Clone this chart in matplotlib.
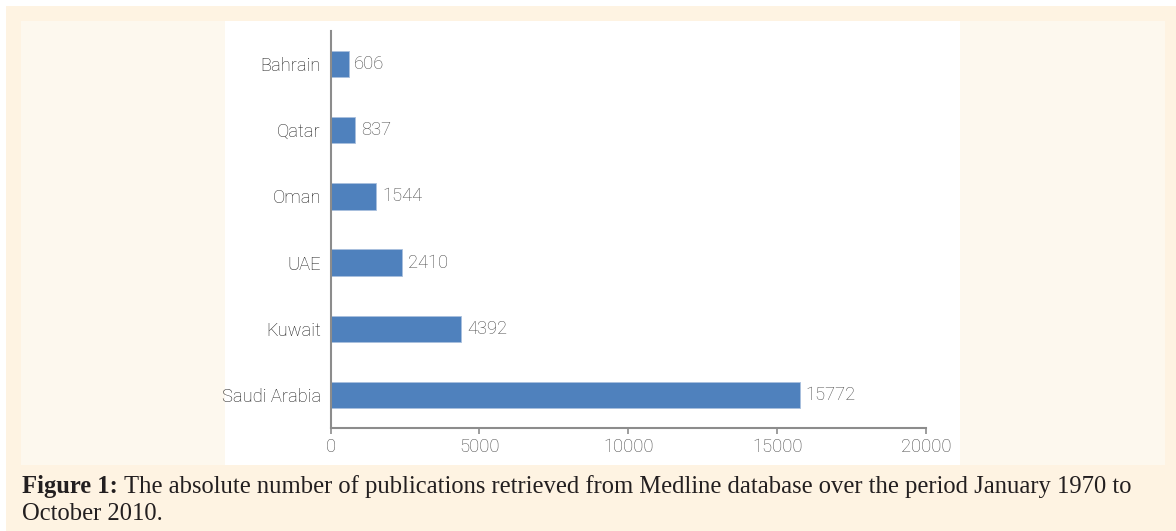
import matplotlib
matplotlib.use("Agg")
import matplotlib.pyplot as plt
from matplotlib.patches import Rectangle

# data, bottom to top
countries = ["Saudi Arabia", "Kuwait", "UAE", "Oman", "Qatar", "Bahrain"]
publications = [15772, 4392, 2410, 1544, 837, 606]
x_ticks = [0, 5000, 10000, 15000, 20000]

W, H = 1176, 531
BAR = "#4F81BD"
GREY = "#4A4A4A"
CAP = 17.75
SANS = dict(family="Roboto", weight="light", fontsize=13.2)
fig = plt.figure(figsize=(W / 100, H / 100), dpi=100)
fig.patch.set_facecolor("white")


def px_rect(x0, y0, x1, y1, color):
    # rectangle in pixel coords (origin top-left)
    fig.patches.append(Rectangle((x0 / W, 1 - y1 / H), (x1 - x0) / W, (y1 - y0) / H,
                                 transform=fig.transFigure, facecolor=color,
                                 edgecolor="none", zorder=0))


px_rect(6, 6, W, H, "#FEF3E2")
px_rect(21, 21, 1165, 465, "#FDF8EE")
px_rect(225, 21, 960, 465, "white")

ax = fig.add_axes([330.5 / W, 1 - 428 / H, (926 - 330.5) / W, 397 / H])
ax.set_facecolor("none")
ax.set_zorder(2)

ypos = list(range(len(countries)))
bars = ax.barh(ypos, publications, height=0.4, color=BAR,
               edgecolor="#A9C0DE", linewidth=0.6)
ax.bar_label(bars, labels=[str(v) for v in publications], padding=4,
             color=GREY, **SANS)

ax.set_xlim(0, 20000)
ax.set_ylim(-0.5, len(countries) - 0.5)
ax.set_xticks(x_ticks)
ax.set_xticklabels([str(t) for t in x_ticks])
ax.set_yticks(ypos)
ax.set_yticklabels(countries)

for s in ["top", "right"]:
    ax.spines[s].set_visible(False)
for s in ["left", "bottom"]:
    ax.spines[s].set_color("#8C8C8C")
    ax.spines[s].set_linewidth(1.5)

ax.tick_params(axis="x", length=4, width=1.2, color="#8C8C8C", pad=3,
               labelcolor=GREY)
ax.tick_params(axis="y", length=0, pad=7, labelcolor="#1E1E1E")
for lab in ax.get_xticklabels() + ax.get_yticklabels():
    lab.set_family(SANS["family"])
    lab.set_weight(SANS["weight"])
    lab.set_fontsize(SANS["fontsize"])

# caption
t1 = fig.text(22 / W, 1 - 487 / H, "Figure 1:", fontsize=CAP, fontweight="bold",
              family="Liberation Serif", color="#231F20", va="center")
r = fig.canvas.get_renderer()
x_end = t1.get_window_extent(r).x1
fig.text((x_end + 6) / W, 1 - 487 / H,
         "The absolute number of publications retrieved from Medline database over the period January 1970 to",
         fontsize=CAP, family="Liberation Serif", color="#231F20", va="center")
fig.text(22 / W, 1 - 514 / H, "October 2010.", fontsize=CAP,
         family="Liberation Serif", color="#231F20", va="center")

fig.savefig("out.png", dpi=100)
